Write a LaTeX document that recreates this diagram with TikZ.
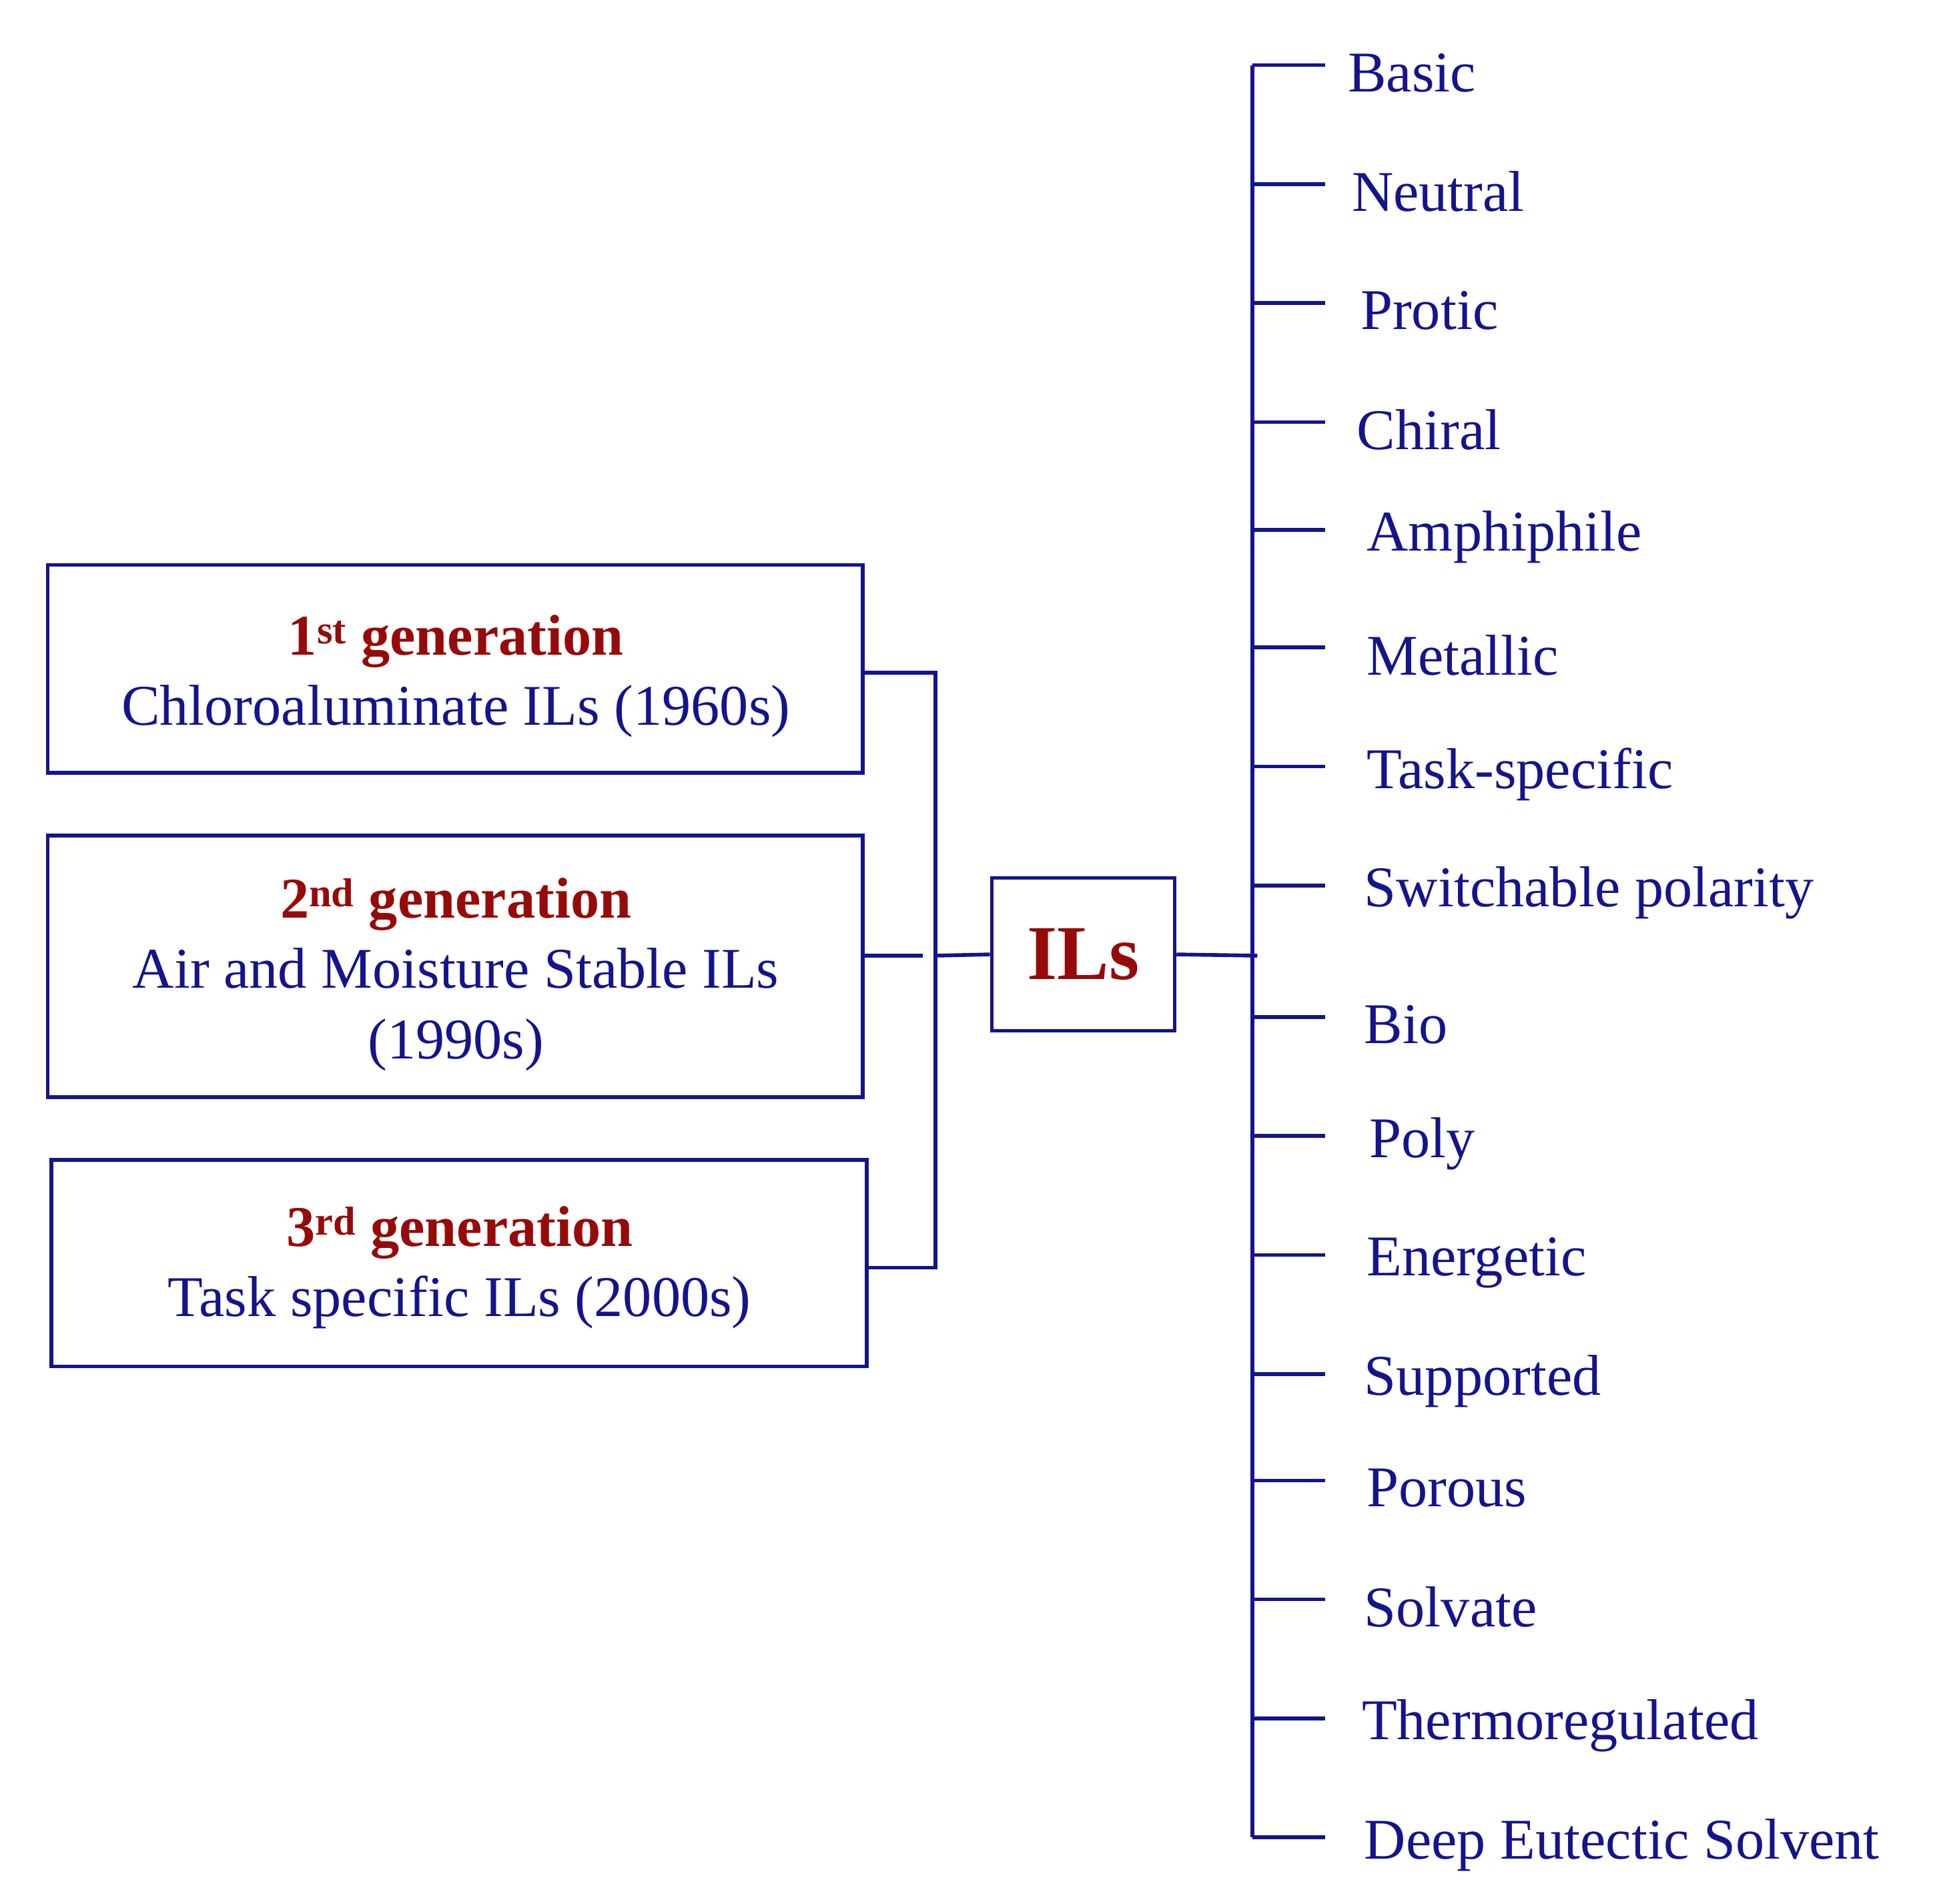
\documentclass[tikz,border=0pt]{standalone}
\usepackage{fontspec}
\setmainfont{Liberation Serif}
\definecolor{navy}{RGB}{20,20,140}
\definecolor{dred}{RGB}{150,10,10}
\begin{document}
\begin{tikzpicture}[x=1pt,y=-1pt,line width=3pt,
  ln/.style={draw=navy,line width=3pt},
  bx/.style={draw=navy,line width=3pt},
  lbl/.style={anchor=west,text=navy,font=\fontsize{46}{54}\selectfont,inner sep=0pt},
  btxt/.style={align=center,font=\fontsize{46}{56}\selectfont,text=navy}]
\useasboundingbox (0,0) rectangle (1550,1520);
\draw[bx] (38,451) rectangle (689,617);
\draw[bx] (38,667) rectangle (689,876);
\draw[bx] (41,926) rectangle (692,1091);
\node[draw=navy,line width=3pt,minimum width=146pt,minimum height=122pt,inner sep=0pt,font=\bfseries\fontsize{62}{70}\selectfont,text=dred] (ils) at (865,762) {ILs};
\node[btxt] (b1) at (364,540) {\textcolor{dred}{\textbf{1\textsuperscript{st} generation}}\\Chloroaluminate ILs (1960s)};
\node[btxt] (b2) at (364,778) {\textcolor{dred}{\textbf{2\textsuperscript{nd} generation}}\\Air and Moisture Stable ILs\\(1990s)};
\node[btxt] (b3) at (367,1012) {\textcolor{dred}{\textbf{3\textsuperscript{rd} generation}}\\Task specific ILs (2000s)};
\coordinate (t1) at (747,537); \coordinate (t3) at (747,1012);
\draw[ln] (689,537) -- (t1) -- (t3) -- (692,1012);
\draw[ln] (689,763) -- (737,763);
\draw[ln] (747,763) -- (ils.west);
\coordinate (rt) at (1000,52); \coordinate (rb) at (1000,1467);
\draw[ln] (ils.east) -- (1004,763);
\draw[ln] (rt) -- (1000,435) -- (1000,517) -- (rb);
\foreach \y/\t/\dx in {52/Basic/75,147/Neutral/78,242/Protic/85,337/Chiral/82,423/Amphiphile/90,517/Metallic/90,612/Task-specific/90,707/Switchable polarity/88,812/Bio/88,907/Poly/92,1002/Energetic/90,1097/Supported/88,1182/Porous/90,1277/Solvate/88,1372/Thermoregulated/86,1467/Deep Eutectic Solvent/88}{
  \draw[ln] (1000,\y) -- (1058,\y);
  \node[lbl] at (1000+\dx,\y+6) {\t};
}
\end{tikzpicture}
\end{document}
